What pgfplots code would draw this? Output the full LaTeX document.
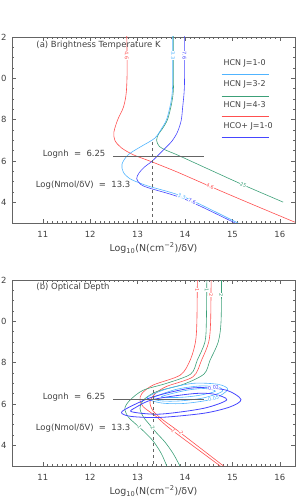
\documentclass[border=0pt]{standalone}
\usepackage{pgfplots}
\pgfplotsset{compat=1.18}
\usepackage{fontspec}
\setmainfont{DejaVu Sans}
\definecolor{cRed}{RGB}{255,80,80}
\definecolor{cCyan}{RGB}{80,180,255}
\definecolor{cGreen}{RGB}{60,160,120}
\definecolor{cBlue}{RGB}{70,70,255}
\definecolor{axc}{RGB}{100,100,100}
\tikzset{
  lbl/.style={font=\fontsize{5}{5}\selectfont, fill=white, inner sep=0.3pt},
  txt/.style={font=\fontsize{8.5}{9}\selectfont, text=black!75},
  leg/.style={font=\fontsize{8}{9}\selectfont, text=black!75, anchor=west},
}
\begin{document}
\begin{tikzpicture}[x=1bp,y=1bp]
\pgfplotsset{
  myax/.style={
    anchor=south west,
    width=283bp, height=186bp, scale only axis,
    xmin=10.35, xmax=16.32, ymin=3, ymax=12,
    xtick={11,12,13,14,15,16}, ytick={4,6,8,10,12},
    yticklabels={4,6,8,0,2},
    minor x tick num=9, minor y tick num=3,
    major tick length=4bp, minor tick length=2bp,
    axis line style={axc, line width=0.5pt},
    every tick/.style={axc, line width=0.4pt},
    ticklabel style={font=\fontsize{8.5}{9}\selectfont, text=black!75},
    /pgf/number format/assume math mode=true,
    yticklabel style={xshift=-2bp},
    xticklabel style={yshift=-5bp},
    xlabel={Log\textsubscript{10}(N(cm\textsuperscript{−2})/δV)},
    every axis x label/.style={at={(axis description cs:0.5,0)}, anchor=center, yshift=-25bp, font=\fontsize{9.5}{10}\selectfont, text=black!75},
    every axis plot/.append style={line width=0.6pt},
  },
}
% ---------------- panel (a)
\begin{axis}[myax, at={(12bp,281bp)}]
\addplot[cRed, smooth] coordinates {(12.77,12.1) (12.78,10.5) (12.76,9.3) (12.70,8.6) (12.58,8.0) (12.50,7.4) (12.52,7.0) (12.65,6.65) (12.91,6.30) (13.30,5.96) (13.82,5.48) (14.53,4.77) (15.4,3.92) (16.40,2.96)};
\addplot[cGreen, smooth] coordinates {(13.76,12.1) (13.76,10) (13.75,9.3) (13.71,8.7) (13.63,8.0) (13.52,7.55) (13.44,7.3) (13.40,7.0) (13.46,6.7) (13.61,6.51) (13.85,6.28) (14.5,5.6) (15.23,4.84) (16.07,4.01)};
\addplot[cCyan, smooth] coordinates {(13.74,12.1) (13.74,10) (13.73,9.3) (13.69,8.7) (13.61,8.0) (13.50,7.55) (13.36,7.1) (13.05,6.67) (12.80,6.3) (12.67,5.85) (12.70,5.45) (12.84,5.14) (13.05,4.93) (13.26,4.76) (14.0,4.24) (15.14,2.97)};
\addplot[cBlue, smooth] coordinates {(13.99,12.1) (13.99,10) (13.98,9.3) (13.95,8.6) (13.92,7.97) (13.84,7.4) (13.72,6.95) (13.55,6.55) (13.42,6.25) (13.30,5.98) (13.14,5.7) (13.03,5.42) (12.98,5.14) (13.07,4.86) (13.26,4.68) (14.0,4.15) (15.08,2.97)};
% reference lines
\addplot[axc, line width=0.5pt] coordinates {(12.49,6.25) (14.39,6.25)};
\addplot[axc, line width=0.5pt, dashed] coordinates {(13.31,6.9) (13.31,3)};
% contour labels
\node[lbl, text=cRed, rotate=-90] at (axis cs:12.77,11.1) {4.6};
\node[lbl, text=cCyan, rotate=-90] at (axis cs:13.745,11.1) {3.3};
\node[lbl, text=cBlue, rotate=-90] at (axis cs:13.99,11.1) {7.6};
\node[lbl, text=cRed, rotate=-21] at (axis cs:14.53,4.77) {4.6};
\node[lbl, text=cGreen, rotate=-23] at (axis cs:15.23,4.84) {25};
\node[lbl, text=cCyan, rotate=-22] at (axis cs:13.93,4.29) {3.3};
\node[lbl, text=cBlue, rotate=-22] at (axis cs:14.15,4.04) {7.6};
% texts
\node[txt, anchor=west] at (rel axis cs:0.074,0.955) {(a) Brightness Temperature K};
\node[txt] at (axis cs:11.66,6.33) {Lognh\ \ =\ \ 6.25};
\node[txt] at (axis cs:11.85,4.82) {Log(Nmol/δV)\ \ =\ \ 13.3};
% legend
\node[leg] at (rel axis cs:0.735,0.857) {HCN J=1-0};
\draw[cCyan, line width=0.7pt] (rel axis cs:0.741,0.800) -- (rel axis cs:0.909,0.800);
\node[leg] at (rel axis cs:0.735,0.745) {HCN J=3-2};
\draw[cGreen, line width=0.7pt] (rel axis cs:0.741,0.683) -- (rel axis cs:0.909,0.683);
\node[leg] at (rel axis cs:0.735,0.630) {HCN J=4-3};
\draw[cRed, line width=0.7pt] (rel axis cs:0.741,0.574) -- (rel axis cs:0.909,0.574);
\node[leg] at (rel axis cs:0.735,0.518) {HCO+ J=1-0};
\draw[cBlue, line width=0.7pt] (rel axis cs:0.741,0.463) -- (rel axis cs:0.909,0.463);
\end{axis}
% ---------------- panel (b)
\begin{axis}[myax, at={(12bp,38bp)}]
\addplot[cRed, smooth] coordinates {(14.26,12.1) (14.25,10) (14.22,9) (14.11,8.13) (13.9,7.4) (13.33,6.92) (13.09,6.51) (13.05,6.19) (13.12,5.86) (13.40,5.38) (13.70,4.78) (14.76,2.97)};
\addplot[cRed, smooth] coordinates {(14.55,12.1) (14.54,10) (14.50,9) (14.35,8.13) (14.17,7.32) (13.61,6.85) (13.37,6.5) (13.26,6.1) (13.33,5.65) (13.54,5.22) (13.85,4.7) (14.83,2.97)};
\addplot[cGreen, smooth] coordinates {(14.46,12.1) (14.45,10) (14.42,9) (14.26,8.13) (14.12,7.45) (13.61,7.0) (13.12,6.67) (12.84,6.19) (12.73,5.79) (12.80,5.38) (12.95,5.05) (13.12,4.7) (13.33,4.2) (13.5,3.6) (13.62,2.97)};
\addplot[cGreen, smooth] coordinates {(14.77,12.1) (14.76,10) (14.70,9) (14.53,8.13) (14.40,7.45) (13.96,6.95) (13.4,6.6) (13.12,6.19) (13.05,5.79) (13.12,5.38) (13.26,4.98) (13.40,4.6) (13.58,4.15) (13.75,3.6) (13.90,2.97)};
% HCN 1-0 (cyan) closed contours
\addplot[cCyan, smooth cycle] coordinates {(13.2,6.3) (13.6,6.72) (14.17,7.0) (14.7,6.95) (14.9,6.7) (14.6,6.25) (14.0,6.03) (13.5,6.05)};
\addplot[cCyan, smooth cycle] coordinates {(13.33,6.3) (13.8,6.7) (14.3,6.87) (14.7,6.82) (14.78,6.6) (14.4,6.3) (13.9,6.15) (13.5,6.15)};
\addplot[cCyan, smooth cycle] coordinates {(13.5,6.35) (14.0,6.65) (14.4,6.75) (14.64,6.62) (14.3,6.42) (13.9,6.32)};
% HCO+ 1-0 (blue) closed contours
\addplot[cBlue, smooth cycle, line width=0.8pt] coordinates {(12.66,5.57) (12.86,5.40) (13.47,5.35) (14.39,5.55) (14.95,5.86) (15.18,6.22) (14.85,6.68) (14.17,6.78) (13.33,6.35) (12.80,5.82)};
\addplot[cBlue, smooth cycle, line width=0.8pt] coordinates {(12.88,5.62) (13.47,5.51) (14.39,5.79) (14.88,6.2) (14.6,6.48) (14.17,6.5) (13.33,6.22) (12.95,5.82)};
% reference lines
\addplot[axc, line width=0.5pt] coordinates {(12.49,6.25) (14.39,6.25)};
\addplot[axc, line width=0.5pt, dashed] coordinates {(13.33,6.7) (13.33,3)};
% labels
\node[lbl, text=cRed, rotate=-90] at (axis cs:14.255,11.5) {1};
\node[lbl, text=cGreen, rotate=-90] at (axis cs:14.455,11.5) {1};
\node[lbl, text=cRed, rotate=-90] at (axis cs:14.545,11.27) {2};
\node[lbl, text=cGreen, rotate=-90] at (axis cs:14.765,11.27) {2};
\node[lbl, text=cGreen, rotate=-60] at (axis cs:13.04,4.9) {1};
\node[lbl, text=cGreen, rotate=-60] at (axis cs:13.32,4.85) {2};
\node[lbl, text=cRed, rotate=-58] at (axis cs:13.75,4.68) {1};
\node[lbl, text=cRed, rotate=-58] at (axis cs:13.92,4.62) {2};
\node[lbl, text=cBlue, rotate=10] at (axis cs:14.6,6.78) {0.02};
\node[lbl, text=cCyan, rotate=10] at (axis cs:14.6,6.27) {0.05};
\node[txt, anchor=west] at (rel axis cs:0.074,0.961) {(b) Optical Depth};
\node[txt] at (axis cs:11.66,6.35) {Lognh\ \ =\ \ 6.25};
\node[txt] at (axis cs:11.85,4.82) {Log(Nmol/δV)\ \ =\ \ 13.3};
\end{axis}
\pgfresetboundingbox
\path[use as bounding box] (0,0) rectangle (306,504);
\end{tikzpicture}
\end{document}
